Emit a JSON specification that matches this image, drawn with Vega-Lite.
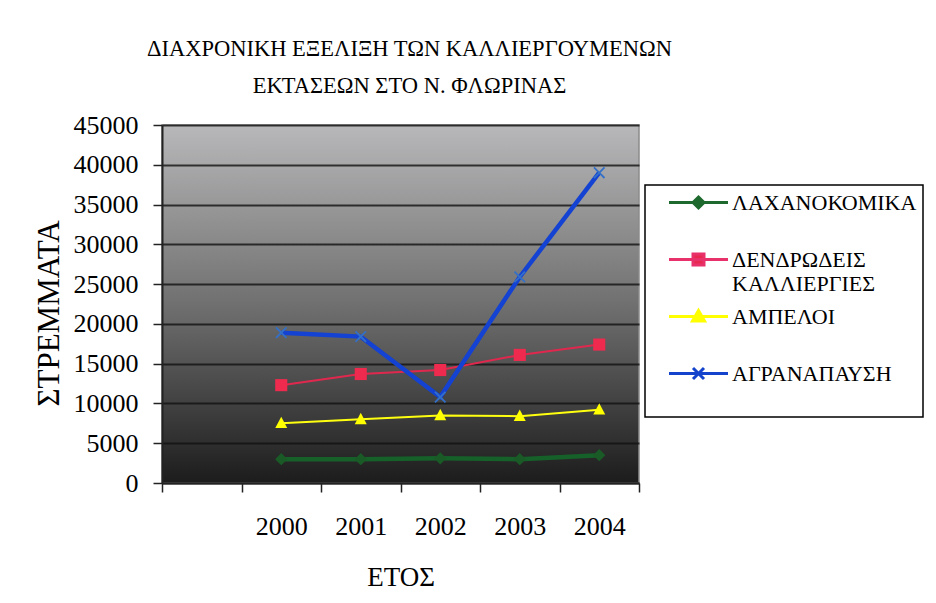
{
  "$schema": "https://vega.github.io/schema/vega-lite/v6.json",
  "width": 477,
  "height": 358,
  "autosize": "none",
  "padding": {"left": 162, "top": 125, "right": 297, "bottom": 120},
  "background": "white",
  "title": {
    "text": ["ΔΙΑΧΡΟΝΙΚΗ ΕΞΕΛΙΞΗ ΤΩΝ ΚΑΛΛΙΕΡΓΟΥΜΕΝΩΝ", "ΕΚΤΑΣΕΩΝ ΣΤΟ Ν. ΦΛΩΡΙΝΑΣ"],
    "font": "Liberation Serif",
    "fontSize": 22.5,
    "fontWeight": "normal",
    "color": "#000000",
    "lineHeight": 37,
    "anchor": "middle",
    "dx": 9,
    "offset": 15
  },
  "data": {
    "values": [
      {"series": "ΛΑΧΑΝΟΚΟΜΙΚΑ", "year": "2000", "value": 3000},
      {"series": "ΛΑΧΑΝΟΚΟΜΙΚΑ", "year": "2001", "value": 3000},
      {"series": "ΛΑΧΑΝΟΚΟΜΙΚΑ", "year": "2002", "value": 3100},
      {"series": "ΛΑΧΑΝΟΚΟΜΙΚΑ", "year": "2003", "value": 3000},
      {"series": "ΛΑΧΑΝΟΚΟΜΙΚΑ", "year": "2004", "value": 3500},
      {"series": "ΔΕΝΔΡΩΔΕΙΣ ΚΑΛΛΙΕΡΓΙΕΣ", "year": "2000", "value": 12300},
      {"series": "ΔΕΝΔΡΩΔΕΙΣ ΚΑΛΛΙΕΡΓΙΕΣ", "year": "2001", "value": 13700},
      {"series": "ΔΕΝΔΡΩΔΕΙΣ ΚΑΛΛΙΕΡΓΙΕΣ", "year": "2002", "value": 14200},
      {"series": "ΔΕΝΔΡΩΔΕΙΣ ΚΑΛΛΙΕΡΓΙΕΣ", "year": "2003", "value": 16100},
      {"series": "ΔΕΝΔΡΩΔΕΙΣ ΚΑΛΛΙΕΡΓΙΕΣ", "year": "2004", "value": 17400},
      {"series": "ΑΜΠΕΛΟΙ", "year": "2000", "value": 7500},
      {"series": "ΑΜΠΕΛΟΙ", "year": "2001", "value": 8000},
      {"series": "ΑΜΠΕΛΟΙ", "year": "2002", "value": 8500},
      {"series": "ΑΜΠΕΛΟΙ", "year": "2003", "value": 8400},
      {"series": "ΑΜΠΕΛΟΙ", "year": "2004", "value": 9200},
      {"series": "ΑΓΡΑΝΑΠΑΥΣΗ", "year": "2000", "value": 18900},
      {"series": "ΑΓΡΑΝΑΠΑΥΣΗ", "year": "2001", "value": 18400},
      {"series": "ΑΓΡΑΝΑΠΑΥΣΗ", "year": "2002", "value": 10800},
      {"series": "ΑΓΡΑΝΑΠΑΥΣΗ", "year": "2003", "value": 25900},
      {"series": "ΑΓΡΑΝΑΠΑΥΣΗ", "year": "2004", "value": 39000}
    ]
  },
  "encoding": {
    "x": {
      "field": "year",
      "type": "ordinal",
      "scale": {"type": "band", "domain": ["", "2000", "2001", "2002", "2003", "2004"], "paddingInner": 0, "paddingOuter": 0},
      "axis": {
        "title": "ΕΤΟΣ",
        "labelAngle": 0,
        "tickBand": "extent",
        "tickSize": 9,
        "tickColor": "#222222",
        "tickWidth": 1.5,
        "domainColor": "#222222",
        "domainWidth": 2,
        "labelPadding": 21,
        "labelFont": "Liberation Serif",
        "labelFontSize": 26,
        "labelColor": "#000000",
        "titleFont": "Liberation Serif",
        "titleFontSize": 27,
        "titleFontWeight": "normal",
        "titleColor": "#000000",
        "titlePadding": 25,
        "grid": false
      }
    },
    "y": {
      "field": "value",
      "type": "quantitative",
      "scale": {"domain": [0, 45000], "nice": false},
      "axis": {
        "title": "ΣΤΡΕΜΜΑΤΑ",
        "values": [0, 5000, 10000, 15000, 20000, 25000, 30000, 35000, 40000, 45000],
        "format": "d",
        "grid": true,
        "gridColor": "#111111",
        "gridWidth": 1.8,
        "gridOpacity": 0.8,
        "tickSize": 9,
        "tickColor": "#222222",
        "tickWidth": 1.5,
        "domainColor": "#222222",
        "domainWidth": 2,
        "labelPadding": 15,
        "labelFont": "Liberation Serif",
        "labelFontSize": 26,
        "labelColor": "#000000",
        "titleFont": "Liberation Serif",
        "titleFontSize": 31,
        "titleFontWeight": "normal",
        "titleColor": "#000000",
        "titlePadding": 8,
        "titleY": 188
      }
    }
  },
  "layer": [
    {
      "transform": [{"filter": "datum.series == 'ΔΕΝΔΡΩΔΕΙΣ ΚΑΛΛΙΕΡΓΙΕΣ' || datum.series == 'ΑΜΠΕΛΟΙ'"}],
      "mark": {"type": "line", "strokeWidth": 2},
      "encoding": {
        "color": {
          "field": "series", "type": "nominal", "legend": null,
          "scale": {"domain": ["ΛΑΧΑΝΟΚΟΜΙΚΑ", "ΔΕΝΔΡΩΔΕΙΣ ΚΑΛΛΙΕΡΓΙΕΣ", "ΑΜΠΕΛΟΙ", "ΑΓΡΑΝΑΠΑΥΣΗ"], "range": ["#16602a", "#e0284e", "#ffff10", "#1442d2"]}
        }
      }
    },
    {
      "transform": [{"filter": "datum.series == 'ΛΑΧΑΝΟΚΟΜΙΚΑ' || datum.series == 'ΑΓΡΑΝΑΠΑΥΣΗ'"}],
      "mark": {"type": "line", "strokeWidth": 4.5},
      "encoding": {
        "color": {
          "field": "series", "type": "nominal", "legend": null,
          "scale": {"domain": ["ΛΑΧΑΝΟΚΟΜΙΚΑ", "ΔΕΝΔΡΩΔΕΙΣ ΚΑΛΛΙΕΡΓΙΕΣ", "ΑΜΠΕΛΟΙ", "ΑΓΡΑΝΑΠΑΥΣΗ"], "range": ["#16602a", "#e0284e", "#ffff10", "#1442d2"]}
        }
      }
    },
    {
      "mark": {"type": "point", "filled": true, "opacity": 1},
      "encoding": {
        "color": {
          "field": "series", "type": "nominal", "legend": null,
          "scale": {"domain": ["ΛΑΧΑΝΟΚΟΜΙΚΑ", "ΔΕΝΔΡΩΔΕΙΣ ΚΑΛΛΙΕΡΓΙΕΣ", "ΑΜΠΕΛΟΙ", "ΑΓΡΑΝΑΠΑΥΣΗ"], "range": ["#1a5a26", "#ee2a4e", "#ffff00", "#3470c8"]}
        },
        "shape": {
          "field": "series", "type": "nominal", "legend": null,
          "scale": {
            "domain": ["ΛΑΧΑΝΟΚΟΜΙΚΑ", "ΔΕΝΔΡΩΔΕΙΣ ΚΑΛΛΙΕΡΓΙΕΣ", "ΑΜΠΕΛΟΙ", "ΑΓΡΑΝΑΠΑΥΣΗ"],
            "range": [
              "M0,-1L1,0L0,1L-1,0Z",
              "M-1,-1L1,-1L1,1L-1,1Z",
              "M0,-1.1L1,0.8L-1,0.8Z",
              "M-1,-0.78L-0.78,-1L0,-0.22L0.78,-1L1,-0.78L0.22,0L1,0.78L0.78,1L0,0.22L-0.78,1L-1,0.78L-0.22,0Z"
            ]
          }
        },
        "size": {
          "field": "series", "type": "nominal", "legend": null,
          "scale": {"domain": ["ΛΑΧΑΝΟΚΟΜΙΚΑ", "ΔΕΝΔΡΩΔΕΙΣ ΚΑΛΛΙΕΡΓΙΕΣ", "ΑΜΠΕΛΟΙ", "ΑΓΡΑΝΑΠΑΥΣΗ"], "range": [150, 140, 160, 400]}
        }
      }
    },
    {
      "transform": [{"filter": "datum.value < 0"}],
      "mark": {"type": "point", "filled": true, "opacity": 1},
      "encoding": {
        "fill": {
          "field": "series", "type": "nominal",
          "legend": {"title": " ", "labelExpr": "datum.label == 'ΔΕΝΔΡΩΔΕΙΣ ΚΑΛΛΙΕΡΓΙΕΣ' ? ['ΔΕΝΔΡΩΔΕΙΣ', 'ΚΑΛΛΙΕΡΓΙΕΣ'] : datum.label"},
          "scale": {"domain": ["ΛΑΧΑΝΟΚΟΜΙΚΑ", "ΔΕΝΔΡΩΔΕΙΣ ΚΑΛΛΙΕΡΓΙΕΣ", "ΑΜΠΕΛΟΙ", "ΑΓΡΑΝΑΠΑΥΣΗ"], "range": ["#1e6a2e", "#e8284e", "#ffff00", "#1444cc"]}
        },
        "stroke": {
          "field": "series", "type": "nominal",
          "legend": {"title": " ", "labelExpr": "datum.label == 'ΔΕΝΔΡΩΔΕΙΣ ΚΑΛΛΙΕΡΓΙΕΣ' ? ['ΔΕΝΔΡΩΔΕΙΣ', 'ΚΑΛΛΙΕΡΓΙΕΣ'] : datum.label"},
          "scale": {"domain": ["ΛΑΧΑΝΟΚΟΜΙΚΑ", "ΔΕΝΔΡΩΔΕΙΣ ΚΑΛΛΙΕΡΓΙΕΣ", "ΑΜΠΕΛΟΙ", "ΑΓΡΑΝΑΠΑΥΣΗ"], "range": ["#1e6a2e", "#e8306a", "#ffff00", "#1444cc"]}
        },
        "shape": {
          "field": "series", "type": "nominal",
          "legend": {"title": " ", "labelExpr": "datum.label == 'ΔΕΝΔΡΩΔΕΙΣ ΚΑΛΛΙΕΡΓΙΕΣ' ? ['ΔΕΝΔΡΩΔΕΙΣ', 'ΚΑΛΛΙΕΡΓΙΕΣ'] : datum.label"},
          "scale": {
            "domain": ["ΛΑΧΑΝΟΚΟΜΙΚΑ", "ΔΕΝΔΡΩΔΕΙΣ ΚΑΛΛΙΕΡΓΙΕΣ", "ΑΜΠΕΛΟΙ", "ΑΓΡΑΝΑΠΑΥΣΗ"],
            "range": [
              "M-2.95,0L2.95,0M0,-0.55L0.55,0L0,0.55L-0.55,0Z",
              "M-2.95,0L2.95,0M-0.55,-0.55L0.55,-0.55L0.55,0.55L-0.55,0.55Z",
              "M-2.95,0L2.95,0M0,-0.6L0.6,0.45L-0.6,0.45Z",
              "M-2.95,0L2.95,0M-0.55,-0.55L0.55,0.55M-0.55,0.55L0.55,-0.55"
            ]
          }
        }
      }
    }
  ],
  "resolve": {
    "scale": {"color": "independent", "shape": "independent", "size": "independent", "fill": "independent", "stroke": "independent"}
  },
  "config": {
    "view": {
      "fill": {
        "gradient": "linear", "x1": 0, "y1": 0, "x2": 0, "y2": 1,
        "stops": [
          {"offset": 0, "color": "#b8b8ba"},
          {"offset": 0.5, "color": "#707070"},
          {"offset": 1, "color": "#1c1c1c"}
        ]
      },
      "stroke": "#8a8a8a",
      "strokeWidth": 1.5
    },
    "legend": {
      "orient": "none",
      "legendX": 483,
      "legendY": 60,
      "padding": 6,
      "fillColor": "#ffffff",
      "strokeColor": "#000000",
      "strokeWidth": 1.5,
      "cornerRadius": 0,
      "labelFont": "Liberation Serif",
      "labelFontSize": 22,
      "labelColor": "#000000",
      "labelLimit": 400,
      "symbolSize": 400,
      "symbolStrokeWidth": 3,
      "symbolOffset": 36,
      "labelOffset": 22,
      "rowPadding": 9,
      "gridAlign": "all",
      "titleOrient": "bottom",
      "titleFontSize": 18,
      "titlePadding": 8,
      "titleFont": "Liberation Serif"
    }
  }
}
